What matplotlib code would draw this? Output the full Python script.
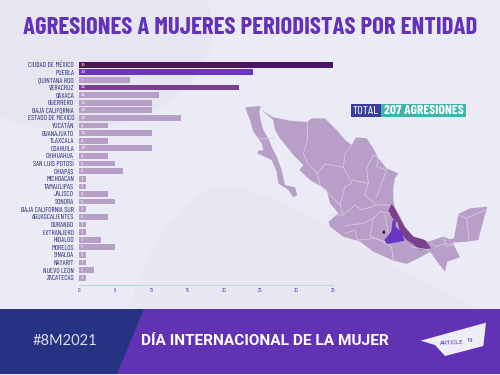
import matplotlib
matplotlib.use('Agg')
import matplotlib.pyplot as plt
from matplotlib.patches import Polygon, Rectangle, Ellipse, PathPatch
from matplotlib.path import Path

states = ['CIUDAD DE MÉXICO','PUEBLA','QUINTANA ROO','VERACRUZ','OAXACA','GUERRERO','BAJA CALIFORNIA',
          'ESTADO DE MÉXICO','YUCATÁN','GUANAJUATO','TLAXCALA','COAHUILA','CHIHUAHUA','SAN LUIS POTOSÍ',
          'CHIAPAS','MICHOACÁN','TAMAULIPAS','JALISCO','SONORA','BAJA CALIFORNIA SUR','AGUASCALIENTES',
          'DURANGO','EXTRANJERO','HIDALGO','MORELOS','SINALOA','NAYARIT','NUEVO LEÓN','ZACATECAS']
values = [35,24,7,22,11,10,10,14,4,10,4,10,4,5,6,1,1,4,5,1,4,1,1,3,5,1,1,2,1]
xticks = [0,5,10,15,20,25,30,35]
title = 'AGRESIONES A MUJERES PERIODISTAS POR ENTIDAD'

baja = [(45,52),(92,48),(88,65),(92,90),(100,120),(115,145),(125,170),(140,200),(155,240),(165,285),(195,292),(202,315),
        (190,322),(175,300),(145,280),(140,245),(125,210),(82,190),(85,182),(100,180),(95,160),(70,125),(60,90)]
mainland = [(92,58),(130,82),(180,92),(230,96),(245,85),(285,85),(320,120),(345,150),(365,165),(378,142),(410,145),
            (430,175),(445,205),(470,235),(505,250),(495,265),(490,290),(490,330),(495,355),(510,380),(525,410),
            (550,440),(595,455),(640,440),(660,448),(672,445),(680,400),(685,372),(720,355),(772,350),(762,385),
            (750,430),(745,450),(715,455),(668,458),(690,502),(652,515),(645,545),(625,520),(600,485),(575,500),
            (530,522),(485,510),(430,485),(390,455),(340,440),(300,410),(295,395),(325,370),(300,340),(290,300),
            (240,270),(208,240),(220,225),(190,195),(150,145),(135,120),(130,90)]
veracruz = [(475,362),(485,342),(495,355),(510,385),(525,412),(550,440),(585,450),(603,475),(570,479),(548,462),
            (528,448),(510,425),(503,398),(488,385)]
puebla = [(488,390),(497,392),(497,410),(514,425),(524,452),(495,458),(470,462),(463,450),(476,435),(484,423)]
cdmx = [(457,425),(463,420),(466,430),(458,431)]
borders = [
    [(232,96),(232,150),(220,190),(230,215)],
    [(230,215),(262,250),(285,222),(340,232),(345,190),(365,165)],
    [(262,250),(270,285),(330,345)],
    [(340,232),(365,280),(345,290),(330,345)],
    [(365,270),(415,280),(405,315),(440,345),(480,345)],
    [(410,235),(430,195),(445,205),(440,230),(470,240),(440,320)],
    [(410,235),(415,280)],
    [(330,345),(340,375),(300,375)],
    [(340,375),(375,345),(395,360),(440,345)],
    [(345,410),(360,405),(400,400),(430,385),(450,365),(480,370)],
    [(345,430),(375,420),(385,460)],
    [(430,385),(420,440),(465,455)],
    [(465,375),(475,430)],
    [(385,450),(440,445),(465,460),(485,470),(490,515)],
    [(540,470),(600,480)],
    [(600,460),(620,470),(640,462),(672,462)],
    [(640,445),(650,470),(672,462)],
    [(685,375),(710,385),(718,455)],
    [(710,385),(765,360)],
    [(85,145),(130,145)],
]
logo = [(1262,122),(1458,68),(1450,138),(1335,168),(1305,135)]
navy = [(0,309),(144,309),(117,374),(0,374)]

COND = ['Barlow Condensed', 'Roboto Condensed', 'Archivo Narrow', 'Roboto', 'DejaVu Sans']

def zoom_xy(points):
    return [(230 + x / 3, 90 + y / 3) for x, y in points]

plt.rcParams['font.family'] = COND
fig = plt.figure(figsize=(5, 3.75), dpi=100, facecolor='#ebebf6')
bg = fig.add_axes([0, 0, 1, 1])
bg.set_xlim(0, 500); bg.set_ylim(375, 0); bg.axis('off')

def fit(t, width):
    w = t.get_window_extent(fig.canvas.get_renderer()).width
    t.set_fontsize(t.get_fontsize() * width / w)

# background shapes
bg.add_patch(Ellipse((70, 30), 285, 200, color='#e6e6f1', lw=0))
bg.add_patch(PathPatch(Path([(130,308),(150,230),(190,185),(230,186),(300,195),(400,280),(480,308),(130,308)],
                            [Path.MOVETO,Path.CURVE4,Path.CURVE4,Path.CURVE4,Path.CURVE4,Path.CURVE4,Path.CURVE4,Path.CLOSEPOLY]),
                       color='#e7e7f1', lw=0))

# map
mc = '#b89fc8'
bg.add_patch(Polygon(zoom_xy(baja), closed=True, fc=mc, ec='none'))
bg.add_patch(Polygon(zoom_xy(mainland), closed=True, fc=mc, ec='none'))
for line in borders:
    xy = zoom_xy(line)
    bg.plot([p[0] for p in xy], [p[1] for p in xy], color='#d9cde4', lw=0.55)
bg.add_patch(Polygon(zoom_xy(veracruz), closed=True, fc='#7b3f8c', ec='none'))
bg.add_patch(Polygon(zoom_xy(puebla), closed=True, fc='#6a35c4', ec='none'))
bg.add_patch(Polygon(zoom_xy(cdmx), closed=True, fc='#35104f', ec='none'))

# total badge
bg.add_patch(Rectangle((351, 104), 30, 13, color='#3b3d9e', lw=0))
bg.add_patch(Rectangle((381, 104), 85, 13, color='#40b3ad', lw=0))
fit(bg.text(366, 110.6, 'TOTAL', color='white', ha='center', va='center', fontsize=9), 26)
fit(bg.text(423.5, 110.6, '207 AGRESIONES', color='white', ha='center', va='center', fontsize=9, fontweight='bold'), 79)

# title
fit(bg.text(250, 28, title, color='#6232b8', ha='center', va='center', fontsize=18, fontweight='bold'), 454)

# banner
bg.add_patch(Rectangle((0, 309), 500, 65, color='#6232b5', lw=0))
bg.add_patch(Polygon(navy, closed=True, color='#263383', lw=0))
bg.text(65, 341, '#8M2021', color='#dcdcec', ha='center', va='center', fontsize=10.5, family=['Lato','DejaVu Sans'])
bg.text(265, 341, 'DÍA INTERNACIONAL DE LA MUJER', color='white', ha='center', va='center', fontsize=11.06,
        fontweight='bold', family=['Roboto','DejaVu Sans'])
logo_px = [(x / 3, 300 + y / 3) for x, y in logo]
bg.add_patch(Polygon(logo_px, closed=True, color='#eeeef8', lw=0))
bg.text(452, 342.5, 'ARTICLE', color='#6232b5', ha='center', va='center', fontsize=4.4, rotation=3, family=['Roboto','DejaVu Sans'])
bg.text(470, 340, '19', color='#6232b5', ha='center', va='center', fontsize=4.2, family=['Roboto','DejaVu Sans'])

# bars: x 0..35 spans px 79..333, rows px 64.7..277.7
ax = fig.add_axes([79/500, 1-285/375, 254/500, (285-61)/375])
ax.patch.set_alpha(0)
colors = ['#4a1566', '#6a35c4', mc, '#7b3f8c'] + [mc] * (len(values) - 4)
y = list(range(len(values)))
ax.barh(y, values, height=0.75, color=colors)
for i, v in zip(y, values):
    ax.text(0.25, i, str(v), color='white', va='center', ha='left', fontsize=2.8, family=['DejaVu Sans'])
ax.set_xlim(0, 35)
ax.set_ylim(len(values) - 1 + 0.96, -0.48)
ax.set_yticks(y, states)
ax.set_xticks(xticks)
ax.tick_params(axis='y', length=0, pad=3.6, labelsize=5.3, labelcolor='#262c78')
ax.tick_params(axis='x', length=0, pad=2.5, labelsize=4.2, labelcolor='#4a3aa5')
for s in ['top', 'right', 'left']:
    ax.spines[s].set_visible(False)
ax.spines['bottom'].set_color('#a8d8da')
ax.spines['bottom'].set_linewidth(0.6)

fig.savefig('out.png', dpi=100, facecolor=fig.get_facecolor())
